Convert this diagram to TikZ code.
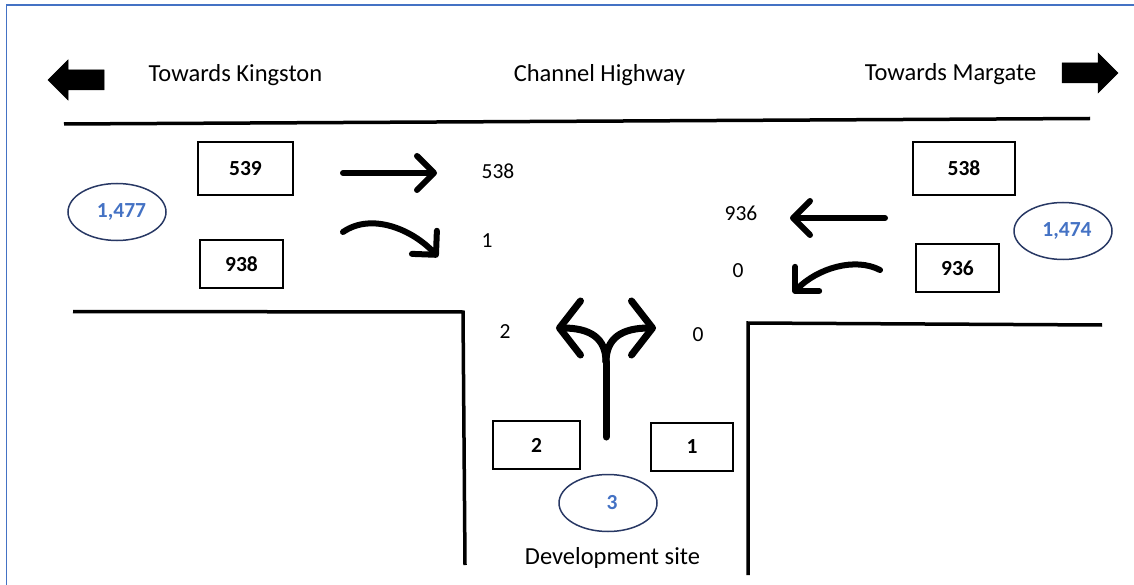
\documentclass[tikz,border=0pt]{standalone}
\usepackage{fontspec}
\setmainfont{Carlito}
\usetikzlibrary{arrows.meta,shapes.geometric}
\definecolor{frameblue}{RGB}{68,114,196}
\definecolor{ovalline}{RGB}{40,56,100}
\definecolor{numblue}{RGB}{68,114,196}
\tikzset{
  every node/.style={font=\fontsize{21.5}{26}\selectfont, inner sep=0pt},
  road/.style={line width=3.5pt, line cap=butt, line join=miter},
  countbox/.style={draw, line width=1.6pt, font=\fontsize{21.5}{26}\selectfont\bfseries, minimum height=48pt},
  totaloval/.style={ellipse, draw=ovalline, line width=1.5pt, minimum width=98pt, minimum height=57pt, text=numblue, font=\fontsize{21.5}{26}\selectfont\bfseries},
  label/.style={},
  title/.style={font=\fontsize{24.5}{29}\selectfont},
  flow/.style={line width=6pt, line cap=round, -{Straight Barb[length=17pt,width=34pt,line cap=round,line join=round]}},
  fork/.style={line width=7pt, line cap=round, -{Straight Barb[length=21pt,width=54pt,line cap=round,line join=round]}},
  blockarrow/.style={fill=black, draw=black, line width=0.5pt}
}
\begin{document}
\begin{tikzpicture}[x=1pt,y=-1pt]
\useasboundingbox (0,0) rectangle (1134,585);
% frame
\draw[frameblue, line width=1.6pt] (6.5,585) -- (6.5,5) -- (1134,5);
% block arrows
\fill[blockarrow] (48,80) -- (68,60) -- (68,70) -- (104,70) -- (104,90) -- (68,90) -- (68,100) -- cycle;
\fill[blockarrow] (1118,73) -- (1098,53) -- (1098,63) -- (1062,63) -- (1062,83) -- (1098,83) -- (1098,93) -- cycle;
% titles
\node[title] (tk) at (235.5,75) {Towards Kingston};
\node[title] (ch) at (599.5,75) {Channel Highway};
\node[title] (tm) at (950.5,74) {Towards Margate};
% road edges
\coordinate (rt1) at (64,124);
\coordinate (rt2) at (1090,118.5);
\draw[road] (rt1) -- (rt2);
\coordinate (l1) at (73,311.5);
\coordinate (l2) at (463,312);
\coordinate (l3) at (465,565);
\draw[road] (l1) -- (l2) -- (l3);
\coordinate (r1) at (748,575);
\coordinate (r2) at (748,323);
\coordinate (r3) at (1102,325);
\draw[road] (r1) -- (r2) -- (r3);
% count boxes
\node[countbox, minimum width=95pt, minimum height=53pt] (b539) at (245.5,168.5) {539};
\node[countbox, minimum width=83pt] (b938) at (241.5,264) {938};
\node[countbox, minimum width=102pt, minimum height=53pt] (b538) at (964,168.5) {538};
\node[countbox, minimum width=83pt] (b936) at (957.5,268) {936};
\node[countbox, minimum width=87pt] (b2) at (536.5,445) {2};
\node[countbox, minimum width=82pt] (b1) at (692,447) {1};
% totals
\node[totaloval] (o1) at (117,212) {\kern9pt 1,477};
\node[totaloval] (o2) at (1063,231) {\kern8pt 1,474};
\node[totaloval] (o3) at (608,503) {\kern8pt 3};
% movement labels
\node[label] (m538) at (498,171) {538};
\node[label] (m1) at (487,241) {1};
\node[label] (m936) at (741,213) {936};
\node[label] (m0a) at (738,271) {0};
\node[label] (m2) at (505,332) {2};
\node[label] (m0b) at (698,335) {0};
\node[title] (dev) at (612.5,558) {Development site};
% flow arrows
\coordinate (a1s) at (343,173);
\coordinate (a1e) at (437,173);
\draw[flow] (a1s) -- (a1e);
\coordinate (a2s) at (343,232);
\coordinate (a2e) at (438,257);
\draw[flow] (a2s) .. controls (372,212) and (413,230) .. (a2e);
\coordinate (a3s) at (885,218);
\coordinate (a3e) at (790,218);
\draw[flow] (a3s) -- (a3e);
\coordinate (a4s) at (880,270);
\coordinate (a4e) at (793,293);
\draw[flow] (a4s) .. controls (855,257) and (818,268) .. (a4e);
% fork
\coordinate (fs) at (606,437);
\coordinate (fm) at (606,362);
\coordinate (fl) at (556,328);
\coordinate (fr) at (656,328);
\draw[line width=7pt, line cap=round] (fs) -- (fm);
\draw[fork] (fm) .. controls (606,338) and (590,328) .. (fl);
\draw[fork] (fm) .. controls (606,338) and (622,328) .. (fr);
\end{tikzpicture}
\end{document}
